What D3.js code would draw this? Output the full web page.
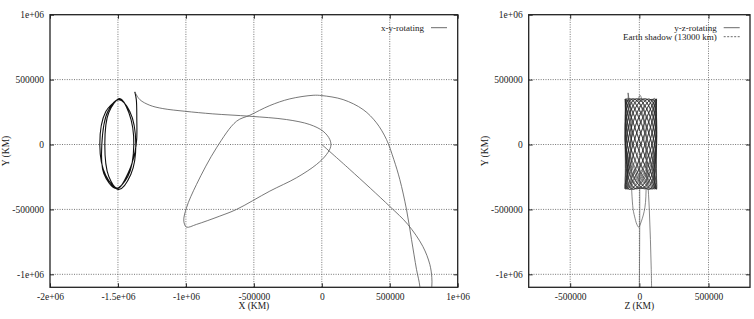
<!DOCTYPE html>
<html>
<head>
<meta charset="utf-8">
<script src="https://cdn.jsdelivr.net/npm/d3@7"></script>
<style>
body { margin: 0; background: #fff; }
svg text { font-family: "Liberation Serif", "Times New Roman", serif; fill: #222; }
</style>
</head>
<body>
<div id="grafico"></div>
<script>
// valores de los ticks
const Y_TICKS = [-1e6, -5e5, 0, 5e5, 1e6];
const Y_LABELS = ["-1e+06", "-500000", "0", "500000", "1e+06"];
const X_TICKS_XY = [-2e6, -1.5e6, -1e6, -5e5, 0, 5e5, 1e6];
const X_LABELS_XY = ["-2e+06", "-1.5e+06", "-1e+06", "-500000", "0", "500000", "1e+06"];
const X_TICKS_YZ = [-5e5, 0, 5e5];
const X_LABELS_YZ = ["-500000", "0", "500000"];

// x-y rotating: orbitas halo (3 vueltas), en km
const HALO_XY = [
  [-1493700, 353800], [-1589300, 253800], [-1633500, 0], [-1589300, -238500], [-1493700, -346100], [-1405400, -230800], [-1368600, 0], [-1412700, 253800],
  [-1493700, 346100], [-1574600, 253800], [-1618800, 0], [-1604000, -223100], [-1515700, -338400], [-1427500, -246100], [-1383300, 0], [-1420100, 246100],
  [-1486300, 353800], [-1567300, 246100], [-1596700, 0], [-1567300, -246100], [-1501000, -338400], [-1420100, -207700], [-1375000, -60000],
  [-1362000, 40000], [-1361200, 192300], [-1364900, 346100], [-1375900, 405400]
];

// x-y rotating: transferencia desde la cuspide hasta la salida inferior
const TRANSFER_XY = [
  [-1375900, 405400], [-1339200, 346100], [-1265600, 302300], [-1169900, 276900], [-1008000, 256100], [-802000, 236100],
  [-529800, 217700], [-259700, 192300], [-88300, 153800], [9600, 102300], [58900, 38500], [66200, -13100], [34600, -76900],
  [-39000, -153800], [-186200, -256100], [-382600, -359200], [-627600, -500000], [-750500, -551500], [-922000, -615400],
  [-995500, -636100], [-1015400, -590000], [-995500, -486900], [-922000, -307700], [-774800, -25400], [-627600, 179200],
  [-529800, 225400], [-382600, 300000], [-235500, 351500], [-64000, 379200], [0, 376900], [156700, 346100], [303900, 269200],
  [402500, 166900], [476000, 38500], [529800, -115400], [573900, -269200], [623200, -500000], [660000, -730700],
  [696800, -961500], [721100, -1092300], [721100, -1192000]
];

// x-y rotating: salida desde la Tierra
const EARTH_XY = [
  [0, 0], [206000, -192300], [500300, -476900], [632800, -615400], [743200, -784600], [794700, -923000],
  [809400, -1023000], [809400, -1092300], [794700, -1192000]
];

// y-z rotating: orbita Lissajous (z, y), en km
const HALO_YZ = [
  [11000, 0], [125000, 352000], [11000, 0], [-103000, -340000],
  [40500, 0], [121100, 350000], [-18500, 0], [-99100, -344000],
  [68000, 0], [109700, 355000], [-46000, 0], [-87700, -342000],
  [91600, 0], [91600, 348000], [-69600, 0], [-69600, -346000],
  [109700, 0], [68000, 350000], [-87700, 0], [-46000, -346000],
  [121100, 0], [40500, 352000], [-99100, 0], [-18500, -340000],
  [125000, 0], [11000, 348000], [-103000, 0], [11000, -338000],
  [121100, 0], [-18500, 350000], [-99100, 0], [40500, -342000],
  [109700, 0], [-46000, 352000], [-87700, 0], [68000, -344000],
  [91600, 0], [-69600, 354000], [-69600, 0], [91600, -340000],
  [68000, 0], [-87700, 356000], [-46000, 0], [109700, -340000],
  [40500, 0], [-99100, 352000], [-18500, 0], [121100, -344000],
  [11000, 0], [-103000, 350000], [11000, 0], [125000, -345000],
  [-18500, 0], [-99100, 348000], [40500, 0], [121100, -342000],
  [-46000, 0], [-87700, 345000], [68000, 0], [109700, -342000],
  [-69600, 0], [-69600, 350000], [91600, 0], [91600, -344000],
  [-87700, 0], [-46000, 352000], [109700, 0], [68000, -346000],
  [-99100, 0], [-18500, 354000], [121100, 0], [40500, -340000],
  [-103000, 0], [11000, 355000], [125000, 0], [11000, -340000],
  [-99100, 0], [40500, 352000], [121100, 0], [-18500, -342000],
  [-87700, 0], [68000, 350000], [109700, 0], [-46000, -344000],
  [-69600, 0], [91600, 348000], [91600, 0], [-69600, -346000],
  [-46000, 0], [109700, 348000], [68000, 0], [-87700, -342000],
  [-18500, 0], [121100, 350000], [40500, 0], [-99100, -340000],
  [-60000, 0], [-81500, 397700]
];

// y-z rotating: transferencia (z, y)
const TRANSFER_YZ = [
  [-81500, 397700], [-80000, 346100], [-78000, 276900], [-76000, 236100], [-72000, 192300], [-68000, 102300],
  [-64000, -13100], [-60000, -153800], [-55000, -359200], [-45000, -500000], [-35000, -551500], [-18000, -615400],
  [-5000, -636100], [15000, -590000], [40000, -486900], [50000, -307700], [53000, -25400], [45000, 179200],
  [30000, 300000], [5000, 379200], [-5000, 346100], [20000, 269200], [40000, 38500], [60000, -269200],
  [72000, -500000], [80000, -730700], [86000, -961500], [90000, -1192000]
];

// y-z rotating: salida desde la Tierra
const EARTH_YZ = [
  [0, 0], [2000, -192300], [3000, -476900], [2000, -784600], [0, -1092300], [-1000, -1192000]
];

const EARTH_SHADOW_KM = 13000;

const WIDTH = 754;
const HEIGHT = 319;
const TOP = 14.7;
const BOTTOM = 287.3;

const SVG = d3.select("#grafico").append("svg").attr("width", WIDTH).attr("height", HEIGHT);
SVG.append("rect").attr("width", WIDTH).attr("height", HEIGHT).attr("fill", "#fff");

function dibujarPanel(conf) {
  var escalaX = d3.scaleLinear().domain(conf.xDomain).range([conf.left, conf.right]);
  var escalaY = d3.scaleLinear().domain([-1.1e6, 1e6]).range([BOTTOM, TOP]);
  var g = SVG.append("g");

  g.append("clipPath").attr("id", conf.id + "-clip")
    .append("rect").attr("x", conf.left).attr("y", TOP)
    .attr("width", conf.right - conf.left).attr("height", BOTTOM - TOP);

  // grilla punteada
  g.selectAll(".gx").data(conf.xTicks.filter(d => d > conf.xDomain[0] && d < conf.xDomain[1]))
    .enter().append("line")
    .attr("x1", d => escalaX(d)).attr("x2", d => escalaX(d))
    .attr("y1", TOP).attr("y2", BOTTOM)
    .attr("stroke", "#666").attr("stroke-width", 0.9).attr("stroke-dasharray", "1,1.4");
  g.selectAll(".gy").data(Y_TICKS.filter(d => d < 1e6))
    .enter().append("line")
    .attr("x1", conf.left).attr("x2", conf.right)
    .attr("y1", d => escalaY(d)).attr("y2", d => escalaY(d))
    .attr("stroke", "#666").attr("stroke-width", 0.9).attr("stroke-dasharray", "1,1.4");

  // ejes con ticks hacia adentro
  var fx = d => conf.xLabels[conf.xTicks.indexOf(d)];
  var fy = d => Y_LABELS[Y_TICKS.indexOf(d)];
  var ejes = [
    g.append("g").attr("transform", "translate(0," + BOTTOM + ")")
      .call(d3.axisBottom(escalaX).tickValues(conf.xTicks).tickFormat(fx).tickSizeInner(-4).tickSizeOuter(0).tickPadding(6)),
    g.append("g").attr("transform", "translate(0," + TOP + ")")
      .call(d3.axisTop(escalaX).tickValues(conf.xTicks).tickFormat("").tickSizeInner(-4).tickSizeOuter(0)),
    g.append("g").attr("transform", "translate(" + conf.left + ",0)")
      .call(d3.axisLeft(escalaY).tickValues(Y_TICKS).tickFormat(fy).tickSizeInner(-4).tickSizeOuter(0).tickPadding(6)),
    g.append("g").attr("transform", "translate(" + conf.right + ",0)")
      .call(d3.axisRight(escalaY).tickValues(Y_TICKS).tickFormat("").tickSizeInner(-4).tickSizeOuter(0))
  ];
  ejes.forEach(function(e) {
    e.select(".domain").remove();
    e.selectAll("line").attr("stroke", "#222");
    e.selectAll("text").attr("font-size", "9.5px").attr("fill", "#222")
      .attr("font-family", "'Liberation Serif', serif");
  });

  // trayectorias
  var trazos = g.append("g").attr("clip-path", "url(#" + conf.id + "-clip)");
  conf.series.forEach(function(s) {
    var linea = d3.line().x(d => escalaX(d[0])).y(d => escalaY(d[1])).curve(s.curva);
    trazos.append("path").attr("d", linea(s.datos))
      .attr("fill", "none").attr("stroke", s.color).attr("stroke-width", s.ancho);
  });
  if (conf.sombra) {
    trazos.append("circle")
      .attr("cx", escalaX(0)).attr("cy", escalaY(0))
      .attr("r", escalaX(conf.sombra) - escalaX(0))
      .attr("fill", "none").attr("stroke", "#333").attr("stroke-width", 0.8).attr("stroke-dasharray", "2,2");
  }

  // borde
  g.append("rect").attr("x", conf.left).attr("y", TOP)
    .attr("width", conf.right - conf.left).attr("height", BOTTOM - TOP)
    .attr("fill", "none").attr("stroke", "#222").attr("stroke-width", 1.3);

  // titulos
  g.append("text").attr("x", (conf.left + conf.right) / 2).attr("y", 309)
    .attr("text-anchor", "middle").attr("font-size", "9.5px").text(conf.xTitulo);
  g.append("text").attr("transform", "translate(" + conf.yTituloX + ",151) rotate(-90)")
    .attr("text-anchor", "middle").attr("dy", "0.35em").attr("font-size", "9.5px").text("Y (KM)");

  // leyenda
  conf.leyenda.forEach(function(l, i) {
    var yL = 27.7 + i * 9;
    g.append("text").attr("x", conf.leyendaX).attr("y", yL).attr("dy", "0.33em")
      .attr("text-anchor", "end").attr("font-size", "9px").text(l.texto);
    g.append("line").attr("x1", conf.leyendaX + 7).attr("x2", conf.leyendaX + 23)
      .attr("y1", yL).attr("y2", yL)
      .attr("stroke", "#444").attr("stroke-width", 0.8).attr("stroke-dasharray", l.guion);
  });
}

var catmull = d3.curveCatmullRom.alpha(0.5);

dibujarPanel({
  id: "xy", left: 50, right: 457.7, xDomain: [-2e6, 1e6],
  xTicks: X_TICKS_XY, xLabels: X_LABELS_XY, xTitulo: "X (KM)", yTituloX: 6,
  series: [
    { datos: HALO_XY, color: "#111", ancho: 1.1, curva: catmull },
    { datos: TRANSFER_XY, color: "#555", ancho: 0.8, curva: catmull },
    { datos: EARTH_XY, color: "#555", ancho: 0.8, curva: catmull }
  ],
  leyendaX: 424,
  leyenda: [{ texto: "x-y-rotating", guion: null }]
});

dibujarPanel({
  id: "yz", left: 528.7, right: 750, xDomain: [-8e5, 8e5],
  xTicks: X_TICKS_YZ, xLabels: X_LABELS_YZ, xTitulo: "Z (KM)", yTituloX: 485,
  series: [
    { datos: HALO_YZ, color: "#222", ancho: 0.6, curva: d3.curveNatural },
    { datos: TRANSFER_YZ, color: "#555", ancho: 0.7, curva: catmull },
    { datos: EARTH_YZ, color: "#555", ancho: 0.7, curva: catmull }
  ],
  sombra: EARTH_SHADOW_KM,
  leyendaX: 716.7,
  leyenda: [{ texto: "y-z-rotating", guion: null }, { texto: "Earth shadow (13000 km)", guion: "2,1.5" }]
});
</script>
</body>
</html>
